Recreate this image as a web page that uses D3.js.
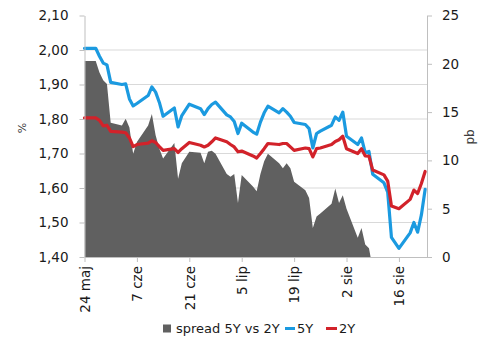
<!DOCTYPE html>
<html>
<head>
<meta charset="utf-8">
<script src="https://cdn.jsdelivr.net/npm/d3@7"></script>
<style>
  body { margin: 0; background: #fff; }
  svg { display: block; font-family: "DejaVu Sans", Verdana, sans-serif; }
</style>
</head>
<body>
<svg id="chart" width="491" height="337"></svg>
<script>
// Trading days (Polish market, 2019)
const dates = [
  "2019-05-24","2019-05-27","2019-05-28","2019-05-29","2019-05-30","2019-05-31",
  "2019-06-03","2019-06-04","2019-06-05","2019-06-06","2019-06-07",
  "2019-06-10","2019-06-11","2019-06-12","2019-06-13","2019-06-14",
  "2019-06-17","2019-06-18","2019-06-19","2019-06-21",
  "2019-06-24","2019-06-25","2019-06-26","2019-06-27","2019-06-28",
  "2019-07-01","2019-07-02","2019-07-03","2019-07-04","2019-07-05",
  "2019-07-08","2019-07-09","2019-07-10","2019-07-11","2019-07-12",
  "2019-07-15","2019-07-16","2019-07-17","2019-07-18","2019-07-19",
  "2019-07-22","2019-07-23","2019-07-24","2019-07-25","2019-07-26",
  "2019-07-29","2019-07-30","2019-07-31","2019-08-01","2019-08-02",
  "2019-08-05","2019-08-06","2019-08-07","2019-08-08","2019-08-09",
  "2019-08-12","2019-08-13","2019-08-14","2019-08-16",
  "2019-08-19","2019-08-20","2019-08-21","2019-08-22","2019-08-23"
];

// 5Y yield, %
const yield5Y = [
  2.005, 2.005, 1.982, 1.962, 1.957, 1.906,
  1.900, 1.902, 1.858, 1.838, 1.845,
  1.868, 1.893, 1.878, 1.848, 1.808,
  1.832, 1.777, 1.810, 1.843,
  1.830, 1.813, 1.830, 1.842, 1.849,
  1.812, 1.806, 1.793, 1.758, 1.788,
  1.762, 1.756, 1.791, 1.818, 1.837,
  1.818, 1.830, 1.820, 1.808, 1.790,
  1.784, 1.772, 1.716, 1.758, 1.765,
  1.782, 1.806, 1.796, 1.820, 1.750,
  1.726, 1.745, 1.702, 1.706, 1.640,
  1.615, 1.588, 1.457, 1.425,
  1.470, 1.500, 1.472, 1.522, 1.596
];

// 2Y yield, %
const yield2Y = [
  1.803, 1.803, 1.796, 1.780, 1.782, 1.764,
  1.762, 1.760, 1.745, 1.720, 1.726,
  1.730, 1.737, 1.732, 1.720, 1.709,
  1.714, 1.703, 1.714, 1.732,
  1.724, 1.719, 1.724, 1.734, 1.745,
  1.734, 1.726, 1.719, 1.705, 1.707,
  1.693, 1.687, 1.700, 1.714, 1.729,
  1.726, 1.729, 1.729, 1.719, 1.709,
  1.716, 1.714, 1.690, 1.714, 1.716,
  1.726, 1.735, 1.740, 1.750, 1.714,
  1.700, 1.714, 1.693, 1.692, 1.652,
  1.638, 1.620, 1.548, 1.540,
  1.567, 1.594, 1.584, 1.613, 1.648
];

// Spread 5Y vs 2Y, bp (negative values fall below the axis floor)
const spread = [
  20.3, 20.3, 19.1, 18.3, 17.9, 13.9,
  13.6, 14.3, 13.4, 10.7, 11.9,
  13.6, 14.8, 12.6, 11.2, 10.2,
  11.8, 8.1, 9.7, 10.9,
  10.8, 9.7, 10.9, 11.0, 10.7,
  8.6, 8.3, 8.6, 5.6, 8.5,
  7.3, 6.8, 8.6, 9.9, 10.7,
  9.7, 9.2, 9.7, 9.2, 7.8,
  6.9, 6.1, 3.0, 4.2, 4.5,
  5.5, 7.1, 5.6, 6.4, 5.0,
  2.0, 3.0, 1.3, 0.9, -1.2,
  -2.3, -3.2, -9.1, -11.5,
  -9.7, -9.4, -11.2, -9.1, -5.2
];

const leftTicks = [1.40, 1.50, 1.60, 1.70, 1.80, 1.90, 2.00, 2.10];
const rightTicks = [0, 5, 10, 15, 20, 25];
const xTickDates = ["2019-05-24","2019-06-07","2019-06-21","2019-07-05","2019-07-19","2019-08-02","2019-08-16"];
const xTickLabels = ["24 maj","7 cze","21 cze","5 lip","19 lip","2 sie","16 sie"];

const legendLabels = ["spread 5Y vs 2Y", "5Y", "2Y"];
const colors = { spread: "#606060", y5: "#1b9ae0", y2: "#d2222a" };

const parse = d3.timeParse("%Y-%m-%d");
const rows = dates.map((d, i) => ({ date: parse(d), y5: yield5Y[i], y2: yield2Y[i], s: spread[i] }));

const svg = d3.select("#chart");
const plot = { left: 84.5, right: 427, top: 15.5, bottom: 257 };

const x = d3.scaleTime()
  .domain([parse("2019-05-24"), d3.timeHour.offset(parse("2019-08-23"), 12)])
  .range([plot.left, plot.right]);
const yL = d3.scaleLinear().domain([1.4, 2.1]).range([plot.bottom, plot.top]);
const yR = d3.scaleLinear().domain([0, 25]).range([plot.bottom, plot.top]);

svg.append("defs").append("clipPath").attr("id", "plotClip")
  .append("rect")
  .attr("x", plot.left).attr("y", plot.top)
  .attr("width", plot.right - plot.left).attr("height", plot.bottom - plot.top);

// horizontal gridlines at the left-axis ticks
svg.append("g").selectAll("line")
  .data(leftTicks.filter(t => t > 1.4 && t < 2.1))
  .join("line")
  .attr("x1", plot.left).attr("x2", plot.right)
  .attr("y1", d => yL(d)).attr("y2", d => yL(d))
  .attr("stroke", "#d9d9d9").attr("stroke-width", 1);

// spread area on the right axis
const area = d3.area()
  .x(d => x(d.date))
  .y0(yR(0))
  .y1(d => yR(d.s));
svg.append("path")
  .datum(rows)
  .attr("clip-path", "url(#plotClip)")
  .attr("fill", colors.spread)
  .attr("d", area);

// yield lines on the left axis
const line5 = d3.line().x(d => x(d.date)).y(d => yL(d.y5));
const line2 = d3.line().x(d => x(d.date)).y(d => yL(d.y2));
svg.append("path").datum(rows)
  .attr("fill", "none").attr("stroke", colors.y5)
  .attr("stroke-width", 3.2).attr("stroke-linejoin", "round").attr("stroke-linecap", "round")
  .attr("d", line5);
svg.append("path").datum(rows)
  .attr("fill", "none").attr("stroke", colors.y2)
  .attr("stroke-width", 3.2).attr("stroke-linejoin", "round").attr("stroke-linecap", "round")
  .attr("d", line2);

const fmtComma = d => d3.format(".2f")(d).replace(".", ",");

function styleAxis(g) {
  g.selectAll("path.domain").attr("stroke", "#bfbfbf");
  g.selectAll(".tick line").attr("stroke", "#bfbfbf");
  g.selectAll("text").attr("fill", "#1a1a1a").attr("font-size", "13.5px")
    .attr("font-family", "\"DejaVu Sans\", Verdana, sans-serif");
}

const gL = svg.append("g").attr("transform", `translate(${plot.left},0)`)
  .call(d3.axisLeft(yL).tickValues(leftTicks).tickFormat(fmtComma).tickSize(5).tickSizeOuter(0).tickPadding(11));
styleAxis(gL);

const gR = svg.append("g").attr("transform", `translate(${plot.right},0)`)
  .call(d3.axisRight(yR).tickValues(rightTicks).tickSize(5).tickSizeOuter(0).tickPadding(10));
styleAxis(gR);

const xTicks = xTickDates.map(parse);
const gB = svg.append("g").attr("transform", `translate(0,${plot.bottom})`)
  .call(d3.axisBottom(x).tickValues(xTicks)
    .tickFormat((d, i) => xTickLabels[i]).tickSize(5).tickSizeOuter(0));
styleAxis(gB);
gB.selectAll("text")
  .attr("transform", "rotate(-90)")
  .attr("text-anchor", "end")
  .attr("x", -9).attr("y", 0).attr("dy", "0.35em");

// axis titles
svg.append("text").attr("transform", "translate(26,128) rotate(-90)")
  .attr("text-anchor", "middle").attr("font-size", "11px").attr("fill", "#404040").text("%");
svg.append("text").attr("transform", "translate(474,137) rotate(-90)")
  .attr("text-anchor", "middle").attr("font-size", "12px").attr("fill", "#404040").text("pb");

// legend
const lg = svg.append("g").attr("font-size", "13px").attr("fill", "#1a1a1a");
lg.append("rect").attr("x", 163).attr("y", 324.5).attr("width", 8).attr("height", 8).attr("fill", colors.spread);
lg.append("text").attr("x", 176).attr("y", 333).text(legendLabels[0]);
lg.append("line").attr("x1", 285).attr("x2", 295).attr("y1", 328.5).attr("y2", 328.5)
  .attr("stroke", colors.y5).attr("stroke-width", 3);
lg.append("text").attr("x", 297).attr("y", 333).text(legendLabels[1]);
lg.append("line").attr("x1", 326).attr("x2", 337).attr("y1", 328.5).attr("y2", 328.5)
  .attr("stroke", colors.y2).attr("stroke-width", 3);
lg.append("text").attr("x", 339).attr("y", 333).text(legendLabels[2]);
</script>
</body>
</html>
